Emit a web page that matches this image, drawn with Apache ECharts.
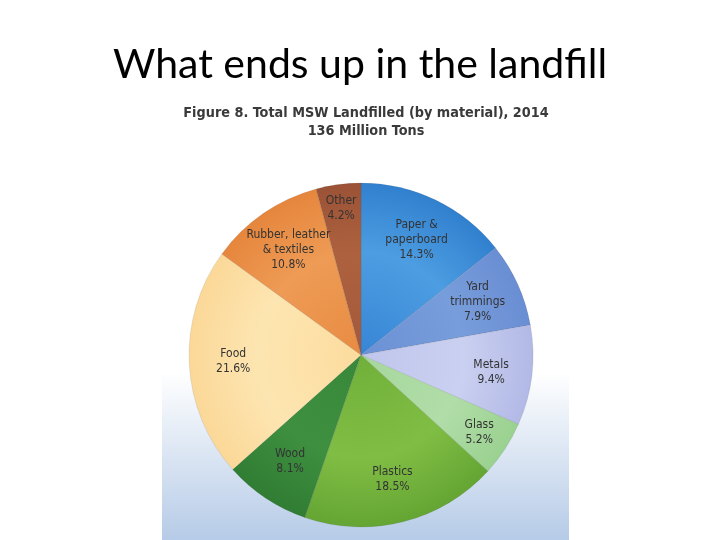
<!DOCTYPE html>
<html>
<head>
<meta charset="utf-8">
<script src="https://cdn.jsdelivr.net/npm/echarts@6/dist/echarts.min.js"></script>
<style>html,body{margin:0;padding:0;background:#fff}#c{width:720px;height:540px}</style>
</head>
<body>
<div id="c"></div>
<script>
var categories = ['Paper & paperboard','Yard trimmings','Metals','Glass','Plastics','Wood','Food','Rubber, leather & textiles','Other'];
var labelNames = ['Paper &\npaperboard','Yard\ntrimmings','Metals','Glass','Plastics','Wood','Food','Rubber, leather\n& textiles','Other'];
var values = [14.3, 7.9, 9.4, 5.2, 18.5, 8.1, 21.6, 10.8, 4.2];
var colorSets = [
  ['#3785d5','#4d9de2','#3080cf'],
  ['#6b91d5','#789ddb','#6a8ed3'],
  ['#c0c6ec','#cad0f0','#b2b9e6'],
  ['#a6d79d','#b1dda8','#9ad190'],
  ['#70b03a','#80bd44','#64a533'],
  ['#39883a','#3e8f40','#307d33'],
  ['#fcdc9e','#fde5b1','#fbd898'],
  ['#e88b42','#ee9b55','#e6863d'],
  ['#a4593b','#ad613e','#9b5236']
];
var labelOffsets = [[0,0],[0,0],[3,2],[11,7],[0,0],[0,0],[0,0],[0,0],[-3,-20]];

var CX = 361, CY = 355, R = 172;
var chart = echarts.init(document.getElementById('c'));

function grad(i){
  var c = colorSets[i];
  return {type:'radial', x:CX, y:CY, r:R, global:true,
    colorStops:[{offset:0,color:c[0]},{offset:0.6,color:c[1]},{offset:1,color:c[2]}]};
}

var pieData = categories.map(function(n,i){
  return {name:n, value:values[i], itemStyle:{color:grad(i)}};
});
var labelData = categories.map(function(n,i){
  return {name:n, value:values[i], label:{offset:labelOffsets[i]}};
});

chart.setOption({
  animation:false,
  backgroundColor:'#ffffff',
  graphic:[{
    type:'rect', z:-10, silent:true,
    shape:{x:162, y:98, width:407, height:442},
    style:{fill:{type:'linear', x:0, y:0, x2:0, y2:1,
      colorStops:[{offset:0,color:'#ffffff'},{offset:0.62,color:'#ffffff'},{offset:1,color:'#b6cbe7'}]}}
  }],
  title:[{
    text:'What ends up in the landfill',
    left:'center', top:39,
    textStyle:{fontFamily:'Lato, "Open Sans", sans-serif', fontSize:41, fontWeight:'normal', color:'#000'}
  },{
    text:'Figure 8. Total MSW Landfilled (by material), 2014\n136 Million Tons',
    left:361, textAlign:'center', top:99,
    textStyle:{fontFamily:'"DejaVu Sans Condensed", "Liberation Sans Narrow", sans-serif', fontSize:14.3, fontWeight:'bold', color:'#3a3a3a', lineHeight:18}
  }],
  series:[{
    type:'pie', center:[CX,CY], radius:[0,R], startAngle:90, clockwise:true,
    silent:true, label:{show:false}, labelLine:{show:false},
    itemStyle:{borderColor:'rgba(80,80,80,0.2)', borderWidth:0.6},
    data:pieData
  },{
    type:'pie', center:[CX,CY], radius:[100,150], startAngle:90, clockwise:true,
    silent:true, z:5,
    itemStyle:{color:'rgba(0,0,0,0)'},
    labelLine:{show:false},
    label:{show:true, position:'inside',
      fontFamily:'"Liberation Sans Narrow", "DejaVu Sans Condensed", sans-serif',
      fontSize:12, lineHeight:15, color:'#333333',
      formatter:function(p){ return labelNames[p.dataIndex] + '\n' + values[p.dataIndex].toFixed(1) + '%'; }
    },
    data:labelData
  }]
});
</script>
</body>
</html>
